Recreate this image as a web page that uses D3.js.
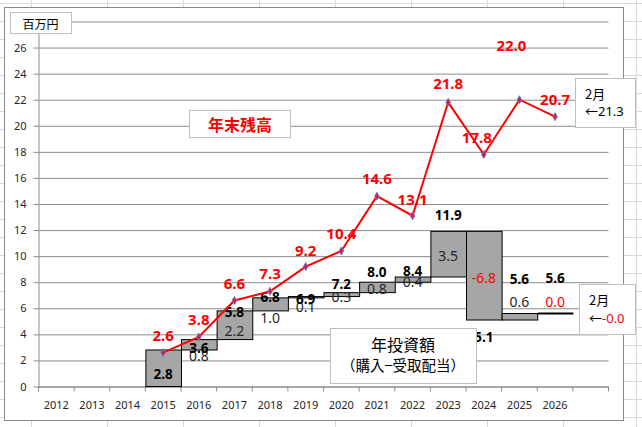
<!DOCTYPE html>
<html>
<head>
<meta charset="utf-8">
<script src="https://cdn.jsdelivr.net/npm/d3@7"></script>
<style>
  body { margin: 0; background: #fff; }
  svg { display: block; }
  text { font-family: "Noto Sans", "Noto Sans CJK JP", sans-serif; }
  .cjk { font-family: "Noto Sans CJK JP", sans-serif; }
</style>
</head>
<body>
<div id="chart"></div>
<script>
// categories on the x axis (last slot is an empty year)
const years = ['2012','2013','2014','2015','2016','2017','2018','2019','2020','2021','2022','2023','2024','2025','2026',''];
const investYears = ['2015','2016','2017','2018','2019','2020','2021','2022','2023','2024','2025','2026'];
// cumulative invested amount (top of each waterfall step)
const totals = [2.8, 3.6, 5.8, 6.8, 6.9, 7.2, 8.0, 8.4, 11.9, 5.1, 5.6, 5.6];
// yearly investment (purchase - dividends received)
const increments = [2.8, 0.8, 2.2, 1.0, 0.1, 0.3, 0.8, 0.4, 3.5, -6.8, 0.6, -0];
// year end balance
const balance = [2.6, 3.8, 6.6, 7.3, 9.2, 10.4, 14.6, 13.1, 21.8, 17.8, 22.0, 20.7];
const yTicks = [0, 2, 4, 6, 8, 10, 12, 14, 16, 18, 20, 22, 24, 26, 28];
const febBalance = '21.3';
const febInvest = '0.0';

// label nudges (px), layout only
const totalNudge = [24, 8, 1, -1, 2, -9, -10, -6, -16, 17, -35, -36];
const incNudge = [null, 11, 5, 13, 9, 2, 1.5, 2, 1, 2, -15, -12];
const balNudgeY = [-18, -18, -17, -18, -17, -18, -18, -17, -19, -17, -55, -18];
const balNudgeX = [0, 0, 0, 0, 0, 0, 0, 0, 0, -7, -8, 0];

const W = 642, H = 427;
const plot = { left: 38.5, right: 608.5, top: 21.5, bottom: 386.5 };

const svg = d3.select('#chart').append('svg')
  .attr('width', W).attr('height', H);

// spreadsheet cell grid behind the chart
const sheet = svg.append('g').attr('stroke', '#dadada').attr('stroke-width', 1);
[31.5, 107.5, 183.5, 259.5, 335.5, 411.5, 487.5, 563.5, 636.5].forEach(x =>
  sheet.append('line').attr('x1', x).attr('x2', x).attr('y1', 0).attr('y2', H));
d3.range(3.5, H, 18).forEach(y =>
  sheet.append('line').attr('x1', 0).attr('x2', W).attr('y1', y).attr('y2', y));

// chart area
svg.append('rect')
  .attr('x', 4.5).attr('y', 7.5).attr('width', 619).attr('height', 413)
  .attr('fill', '#fff').attr('stroke', '#8a8a8a');

const x = d3.scaleBand().domain(years).range([plot.left, plot.right]).padding(0);
const y = d3.scaleLinear().domain([0, 28]).range([plot.bottom, plot.top]);

// gridlines
svg.append('g')
  .attr('transform', `translate(${plot.left},0)`)
  .call(d3.axisLeft(y).tickValues(yTicks).tickSize(-(plot.right - plot.left)).tickFormat(''))
  .call(g => g.select('.domain').remove())
  .call(g => g.selectAll('line').attr('stroke', '#8c8c8c'));

// y axis
svg.append('g')
  .attr('transform', `translate(${plot.left},0)`)
  .call(d3.axisLeft(y).tickValues(yTicks).tickSize(5).tickSizeOuter(0).tickPadding(7))
  .call(g => g.select('.domain').attr('stroke', '#8c8c8c'))
  .call(g => g.selectAll('line').attr('stroke', '#8c8c8c'))
  .call(g => g.selectAll('text').attr('font-size', 11).attr('fill', '#262626'));

// x axis labels
svg.append('g')
  .attr('transform', `translate(0,${plot.bottom})`)
  .call(d3.axisBottom(x).tickSize(0).tickPadding(14.5))
  .call(g => g.select('.domain').attr('stroke', '#8c8c8c'))
  .call(g => g.selectAll('text').attr('font-size', 11).attr('fill', '#262626'));

// x tick marks between categories
const bounds = years.map(d => x(d)).concat([plot.right]);
svg.append('g').selectAll('line').data(bounds).join('line')
  .attr('x1', d => d).attr('x2', d => d)
  .attr('y1', plot.bottom).attr('y2', plot.bottom + 5)
  .attr('stroke', '#8c8c8c');

// waterfall bars
const steps = investYears.map((yr, i) => ({
  year: yr,
  from: i === 0 ? 0 : totals[i - 1],
  to: totals[i],
  inc: increments[i],
  i
}));

svg.append('g').selectAll('rect').data(steps.filter(d => d.from !== d.to)).join('rect')
  .attr('x', d => x(d.year) + 0.5)
  .attr('width', x.bandwidth())
  .attr('y', d => y(Math.max(d.from, d.to)))
  .attr('height', d => Math.abs(y(d.from) - y(d.to)))
  .attr('fill', '#a6a6a6')
  .attr('stroke', '#000')
  .attr('stroke-width', 1);

// flat steps (no change) drawn as a line
svg.append('g').selectAll('line').data(steps.filter(d => d.from === d.to)).join('line')
  .attr('x1', d => x(d.year) + 0.5)
  .attr('x2', d => x(d.year) + x.bandwidth() + 0.5)
  .attr('y1', d => y(d.to)).attr('y2', d => y(d.to))
  .attr('stroke', '#000')
  .attr('stroke-width', 2);

const isNeg = v => v < 0 || Object.is(v, -0);

// increment labels
svg.append('g').selectAll('text').data(steps.filter(d => incNudge[d.i] !== null)).join('text')
  .attr('x', d => x(d.year) + x.bandwidth() / 2)
  .attr('y', d => y((d.from + d.to) / 2) + incNudge[d.i])
  .attr('text-anchor', 'middle')
  .attr('dominant-baseline', 'central')
  .attr('font-size', 14)
  .attr('fill', d => isNeg(d.inc) ? '#ff0000' : '#262626')
  .text(d => d.inc.toFixed(1));

// cumulative labels
svg.append('g').selectAll('text').data(steps).join('text')
  .attr('x', d => x(d.year) + x.bandwidth() / 2)
  .attr('y', d => y(d.to) + totalNudge[d.i])
  .attr('text-anchor', 'middle')
  .attr('dominant-baseline', 'central')
  .attr('font-size', 13.5)
  .attr('font-weight', 'bold')
  .attr('fill', '#000')
  .text(d => d.to.toFixed(1));

// year end balance line
const pts = investYears.map((yr, i) => ({ year: yr, v: balance[i], i }));
const cx = d => x(d.year) + x.bandwidth() / 2;

svg.append('path')
  .datum(pts)
  .attr('fill', 'none')
  .attr('stroke', '#ff0000')
  .attr('stroke-width', 2)
  .attr('d', d3.line().x(cx).y(d => y(d.v)));

svg.append('g').selectAll('path').data(pts).join('path')
  .attr('transform', d => `translate(${cx(d)},${y(d.v)})`)
  .attr('d', d3.symbol(d3.symbolDiamond, 18))
  .attr('fill', '#d0203c')
  .attr('stroke', '#7a72c8')
  .attr('stroke-width', 1);

svg.append('g').selectAll('text').data(pts).join('text')
  .attr('x', d => cx(d) + balNudgeX[d.i])
  .attr('y', d => y(d.v) + balNudgeY[d.i])
  .attr('text-anchor', 'middle')
  .attr('dominant-baseline', 'central')
  .attr('font-size', 15)
  .attr('font-weight', 'bold')
  .attr('fill', '#ff0000')
  .text(d => d.v.toFixed(1));

// text boxes
function box(x0, y0, w, h) {
  return svg.append('rect')
    .attr('x', x0 + 0.5).attr('y', y0 + 0.5).attr('width', w).attr('height', h)
    .attr('fill', '#fff').attr('stroke', '#bfbfbf');
}

box(10, 12, 61, 21);
svg.append('text').attr('class', 'cjk')
  .attr('x', 40.5).attr('y', 23).attr('text-anchor', 'middle')
  .attr('dominant-baseline', 'central').attr('font-size', 12).attr('fill', '#000')
  .text('百万円');

box(189, 110, 101, 27);
svg.append('text').attr('class', 'cjk')
  .attr('x', 240).attr('y', 124).attr('text-anchor', 'middle')
  .attr('dominant-baseline', 'central').attr('font-size', 16).attr('font-weight', 'bold')
  .attr('fill', '#ff0000')
  .text('年末残高');

box(330, 328, 146, 55);
svg.append('text').attr('class', 'cjk')
  .attr('x', 403).attr('y', 344).attr('text-anchor', 'middle')
  .attr('dominant-baseline', 'central').attr('font-size', 16).attr('fill', '#000')
  .text('年投資額');
svg.append('text').attr('class', 'cjk')
  .attr('x', 403).attr('y', 364).attr('text-anchor', 'middle')
  .attr('dominant-baseline', 'central').attr('font-size', 14.5).attr('fill', '#000')
  .text('（購入−受取配当）');

box(575, 78, 60, 49);
svg.append('text').attr('class', 'cjk')
  .attr('x', 585).attr('y', 93).attr('dominant-baseline', 'central')
  .attr('font-size', 13).attr('fill', '#000').text('2月');
svg.append('text')
  .attr('x', 585).attr('y', 111).attr('dominant-baseline', 'central')
  .attr('font-size', 13).attr('fill', '#000').text('←' + febBalance);

box(579, 284, 56, 50);
svg.append('text').attr('class', 'cjk')
  .attr('x', 589).attr('y', 299.5).attr('dominant-baseline', 'central')
  .attr('font-size', 13).attr('fill', '#000').text('2月');
const feb2 = svg.append('text')
  .attr('x', 589).attr('y', 317.5).attr('dominant-baseline', 'central')
  .attr('font-size', 13).attr('fill', '#000');
feb2.append('tspan').text('←');
feb2.append('tspan').attr('fill', '#ff0000').text('-' + febInvest);
</script>
</body>
</html>
